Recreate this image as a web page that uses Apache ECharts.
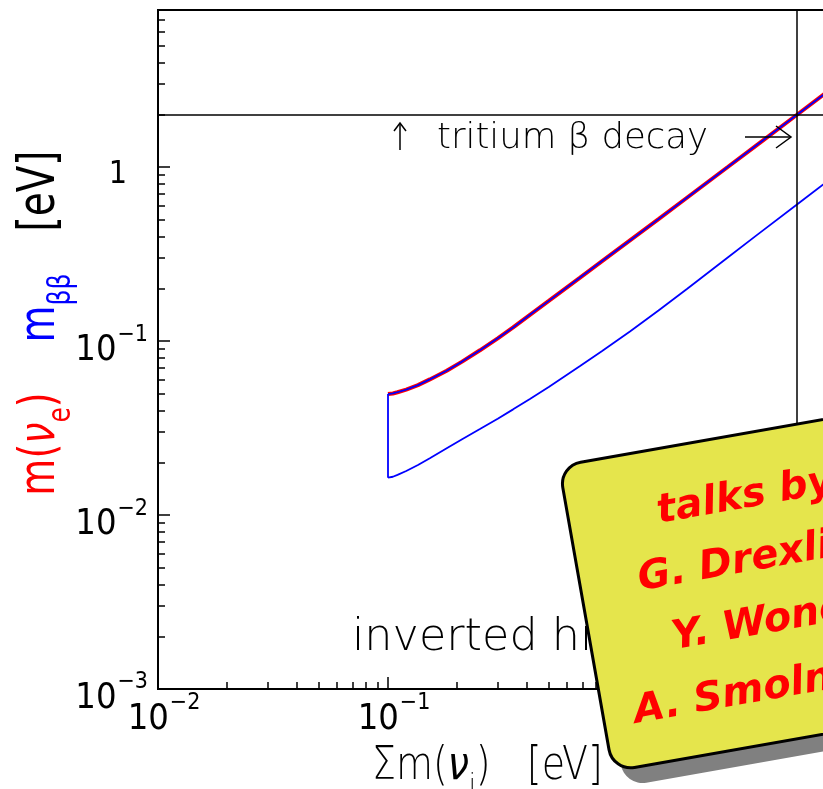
<!DOCTYPE html>
<html>
<head>
<meta charset="utf-8">
<script src="https://cdn.jsdelivr.net/npm/echarts@6/dist/echarts.min.js"></script>
<style>
  html, body { margin: 0; padding: 0; background: #fff; }
  #main { width: 823px; height: 789px; }
</style>
</head>
<body>
<div id="main"></div>
<script>
// sum of the three neutrino masses [eV], inverted hierarchy
var sumMass  = [0.1, 0.105, 0.11, 0.12, 0.135, 0.152, 0.18, 0.21, 0.251, 0.3, 0.35, 0.414, 0.5, 0.684, 0.85, 1.127, 1.5, 2, 3, 4, 6, 8]
// m(nu_e)  (red)
var mNuE     = [0.0496, 0.0500, 0.0508, 0.0526, 0.0558, 0.0602, 0.0675, 0.0762, 0.0885, 0.1037, 0.1198, 0.1415, 0.1702, 0.2318, 0.2873, 0.379, 0.5025, 0.669, 1.0015, 1.3345, 2.0, 2.667]
// m_bb upper / lower edge (blue)
var mBBUpper = [0.0496, 0.0500, 0.0508, 0.0526, 0.0558, 0.0602, 0.0675, 0.0762, 0.0885, 0.1037, 0.1198, 0.1415, 0.1702, 0.2318, 0.2873, 0.379, 0.5025, 0.669, 1.0015, 1.3345, 2.0, 2.667]
var mBBLower = [0.0164, 0.0166, 0.0170, 0.0179, 0.0194, 0.0212, 0.0242, 0.0273, 0.0312, 0.0358, 0.0405, 0.0465, 0.0545, 0.0718, 0.0875, 0.1135, 0.150, 0.200, 0.302, 0.405, 0.61, 0.815]

var tritiumLimit = 2   // eV
var sumLimit = 6       // eV

var xMajor = [0.01, 0.1, 1, 10]
var yMajor = [0.001, 0.01, 0.1, 1]
var xMinor = [], yMinor = []
;[0.01, 0.1, 1].forEach(function (d) { for (var k = 2; k <= 9; k++) xMinor.push(+(d * k).toPrecision(3)) })
;[0.001, 0.01, 0.1, 1].forEach(function (d) { for (var k = 2; k <= 9; k++) yMinor.push(+(d * k).toPrecision(3)) })

var talkers = ['talks by', 'G. Drexlin,', 'Y. Wong,', 'A. Smolnikov']

var THIN = "'DejaVu Sans'"
var NUM = "'Liberation Sans Narrow', 'DejaVu Sans Condensed', 'DejaVu Sans'"

function pairs(xs, ys) {
  return xs.map(function (x, i) { return [x, ys[i]] })
}

function decadeLabel(v) {
  var e = Math.round(Math.log(v) / Math.LN10)
  if (e === 0) return '{one|1}'
  return '{b|10}{s|' + (e < 0 ? '\u2212' : '') + Math.abs(e) + '}'
}

var labelRich = {
  b: { fontFamily: NUM, fontSize: 36, lineHeight: 36, verticalAlign: 'top', padding: [10, 0, 10, 0], color: '#000' },
  s: { fontFamily: NUM, fontSize: 23, lineHeight: 22, verticalAlign: 'top', padding: [0, 0, 0, 1], color: '#000' },
  one: { fontFamily: NUM, fontSize: 32, lineHeight: 36, verticalAlign: 'top', padding: [10, 21, 10, 0], color: '#000' }
}

// rich text pieces for the titles (main + subscript)
function titleRich(size, sub, drop, fam, w) {
  return {
    r: { fontFamily: fam, fontSize: size, fontWeight: w, lineHeight: size * 1.2, verticalAlign: 'top' },
    it: { fontFamily: fam, fontSize: size, fontWeight: w, lineHeight: size * 1.2, verticalAlign: 'top', fontStyle: 'italic' },
    sub: { fontFamily: fam, fontSize: sub, fontWeight: w, lineHeight: sub, verticalAlign: 'top', padding: [drop, 0, 0, 0] }
  }
}

function axisCommon() {
  return {
    type: 'log', logBase: 10, gridIndex: 0,
    splitLine: { show: false }, minorSplitLine: { show: false }
  }
}

var xMain = Object.assign(axisCommon(), {
  min: 0.01, max: 10, position: 'bottom',
  axisLine: { show: true, lineStyle: { color: '#000', width: 2 } },
  axisTick: { show: true, inside: true, length: 12, customValues: xMajor, lineStyle: { color: '#000', width: 1.5 } },
  axisLabel: { show: true, customValues: xMajor, formatter: decadeLabel, rich: labelRich, margin: 3, padding: [0, 0, 0, 12] }
})
var xSub = Object.assign(axisCommon(), {
  min: 0.01, max: 10, position: 'bottom', offset: 0,
  axisLine: { show: false },
  axisTick: { show: true, inside: true, length: 7, customValues: xMinor, lineStyle: { color: '#000', width: 1.5 } },
  axisLabel: { show: false }
})
var yMain = Object.assign(axisCommon(), {
  min: 0.001, max: 8, position: 'left',
  axisLine: { show: true, lineStyle: { color: '#000', width: 2 } },
  axisTick: { show: true, inside: true, length: 12, customValues: yMajor, lineStyle: { color: '#000', width: 1.5 } },
  axisLabel: { show: true, customValues: yMajor, formatter: decadeLabel, rich: labelRich, margin: 10 }
})
var ySub = Object.assign(axisCommon(), {
  min: 0.001, max: 8, position: 'left', offset: 0,
  axisLine: { show: false },
  axisTick: { show: true, inside: true, length: 7, customValues: yMinor, lineStyle: { color: '#000', width: 1.5 } },
  axisLabel: { show: false }
})

var chart = echarts.init(document.getElementById('main'))

chart.setOption({
  animation: false,
  backgroundColor: '#fff',
  grid: {
    left: 158, top: 10, width: 690, bottom: 100, show: true, borderColor: '#000', borderWidth: 2,
    containLabel: false, outerBoundsMode: 'none'
  },
  xAxis: [xMain, xSub],
  yAxis: [yMain, ySub],
  series: [
    {
      type: 'line', name: 'm(nu_e)', data: pairs(sumMass, mNuE), showSymbol: false, symbol: 'none',
      lineStyle: { color: '#ff0000', width: 4 }, z: 3,
      markLine: {
        silent: true, symbol: ['none', 'none'], label: { show: false },
        lineStyle: { color: '#000', width: 1.5, type: 'solid' },
        data: [{ yAxis: tritiumLimit }, { xAxis: sumLimit }]
      }
    },
    {
      type: 'line', name: 'm_bb max', data: pairs(sumMass, mBBUpper), symbol: 'none',
      lineStyle: { color: '#0000ff', width: 1.8 }, z: 4
    },
    {
      type: 'line', name: 'm_bb min', data: pairs(sumMass, mBBLower), symbol: 'none',
      lineStyle: { color: '#0000ff', width: 1.8 }, z: 4
    },
    {
      type: 'line', name: 'edge', data: [[sumMass[0], mBBLower[0]], [sumMass[0], mBBUpper[0]]], symbol: 'none',
      lineStyle: { color: '#0000ff', width: 1.8 }, z: 4
    }
  ],
  graphic: [
    // annotation on the tritium line
    { type: 'polyline', z: 5, shape: { points: [[400, 150], [400, 124]] }, style: { stroke: '#000', lineWidth: 1.5, fill: null } },
    { type: 'polyline', z: 5, shape: { points: [[394, 131], [400, 123], [406, 131]] }, style: { stroke: '#000', lineWidth: 1.5, fill: null } },
    {
      type: 'text', z: 5, x: 437, y: 139,
      style: { text: 'tritium β decay', verticalAlign: 'middle', fill: '#000', fontFamily: THIN, fontSize: 35.5, fontWeight: 200 }
    },
    { type: 'polyline', z: 5, shape: { points: [[745, 137], [791, 137]] }, style: { stroke: '#000', lineWidth: 1.5, fill: null } },
    { type: 'polyline', z: 5, shape: { points: [[776, 126], [791, 137], [776, 148]] }, style: { stroke: '#000', lineWidth: 1.5, fill: null } },

    // hierarchy label, partly under the box
    {
      type: 'text', z: 5, x: 352, y: 638,
      style: { text: 'inverted hierarchy', fontFamily: THIN, fontSize: 44.5, fontWeight: 200, fill: '#000', verticalAlign: 'middle' }
    },

    // y axis title, three coloured parts
    {
      type: 'text', z: 5, x: 46, y: 444, rotation: Math.PI / 2, scaleY: 1.3,
      style: { text: '{r|m(}{it|ν}{sub|e}{r|)}', fill: '#ff0000', align: 'center', verticalAlign: 'middle',
        rich: titleRich(38, 25, 22, THIN, 400) }
    },
    {
      type: 'text', z: 5, x: 46, y: 308, rotation: Math.PI / 2, scaleY: 1.3,
      style: { text: '{r|m}{sub|ββ}', fill: '#0000ff', align: 'center', verticalAlign: 'middle',
        rich: titleRich(38, 25, 22, THIN, 400) }
    },
    {
      type: 'text', z: 5, x: 46, y: 191, rotation: Math.PI / 2, scaleY: 1.3,
      style: { text: '{r|[eV]}', fill: '#000', align: 'center', verticalAlign: 'middle',
        rich: titleRich(39, 25, 22, THIN, 400) }
    },

    // x axis title
    {
      type: 'text', z: 5, x: 372, y: 772, scaleY: 1.2,
      style: { text: '{r|Σm(}{it|ν}{sub|i}{r|)   [eV]}', fill: '#000', align: 'left', verticalAlign: 'middle',
        rich: titleRich(38, 24, 23, THIN, 200) }
    },

    // yellow note box
    {
      type: 'group', z: 100, x: 559, y: 466, rotation: 10 * Math.PI / 180,
      children: [
        { type: 'rect', z: 100, shape: { x: 9, y: 17, width: 380, height: 310, r: 22 }, style: { fill: '#808080' } },
        { type: 'rect', z: 101, shape: { x: 0, y: 0, width: 380, height: 310, r: 22 }, style: { fill: '#e5e54c', stroke: '#000', lineWidth: 3 } }
      ].concat(talkers.map(function (t, i) {
        return {
          type: 'text', z: 102, x: 178, y: [63, 126, 190, 256][i],
          style: { text: t, fontFamily: THIN, fontSize: 40, fontWeight: 'bold', fontStyle: 'italic',
            fill: '#ff0000', align: 'center', verticalAlign: 'middle' }
        }
      }))
    }
  ]
})
</script>
</body>
</html>
